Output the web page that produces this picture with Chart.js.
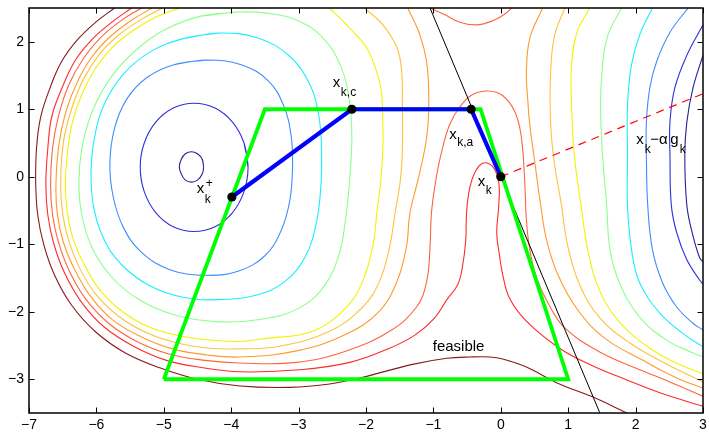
<!DOCTYPE html>
<html><head><meta charset="utf-8">
<script src="https://cdn.jsdelivr.net/npm/chart.js@4.4.0/dist/chart.umd.min.js"></script>
<style>html,body{margin:0;padding:0;background:#fff;}canvas{display:block;}</style>
</head><body>
<canvas id="c" width="709" height="434"></canvas>
<script>
// ---- tick labels ----
const xTicks = [-7,-6,-5,-4,-3,-2,-1,0,1,2,3];
const yTicks = [-3,-2,-1,0,1,2];

// ---- contour lines, left basin (closed ones repeat their first two points) ----
const navyLX = [-4.41,-4.43,-4.50,-4.59,-4.68,-4.74,-4.77,-4.74,-4.68,-4.59,-4.50,-4.43,-4.41,-4.43];
const navyLY = [0.15,0.26,0.34,0.37,0.34,0.26,0.15,0.04,-0.05,-0.08,-0.05,0.04,0.15,0.26];
const blueLX = [-3.75,-3.81,-3.98,-4.24,-4.55,-4.86,-5.12,-5.29,-5.35,-5.29,-5.12,-4.86,-4.55,-4.24,-3.98,-3.81,-3.75,-3.81];
const blueLY = [0.14,0.50,0.81,1.02,1.09,1.02,0.81,0.50,0.14,-0.22,-0.53,-0.74,-0.81,-0.74,-0.53,-0.22,0.14,0.50];
const dodgerLX = [-4.37,-4.85,-5.25,-5.55,-5.73,-5.80,-5.75,-5.60,-5.33,-4.90,-4.37,-3.90,-3.50,-3.26,-3.13,-3.09,-3.11,-3.22,-3.45,-3.85,-4.37,-4.85];
const dodgerLY = [1.73,1.66,1.47,1.15,0.72,0.20,-0.30,-0.75,-1.12,-1.38,-1.46,-1.40,-1.17,-0.80,-0.35,0.15,0.60,1.05,1.42,1.66,1.73,1.66];
const cyanLX = [-4.17,-4.70,-5.20,-5.60,-5.88,-6.03,-6.08,-6.04,-5.90,-5.63,-5.20,-4.70,-4.17,-3.65,-3.20,-2.90,-2.74,-2.67,-2.66,-2.70,-2.84,-3.15,-3.62,-4.17,-4.70];
const cyanLY = [2.13,2.05,1.85,1.52,1.08,0.57,0.05,-0.45,-0.90,-1.30,-1.62,-1.79,-1.82,-1.76,-1.55,-1.18,-0.70,-0.15,0.40,0.90,1.38,1.80,2.06,2.13,2.05];
const greenLX = [-3.87,-4.45,-4.98,-5.42,-5.80,-6.06,-6.21,-6.26,-6.21,-6.05,-5.76,-5.35,-4.80,-4.17,-3.55,-3.00,-2.62,-2.40,-2.30,-2.24,-2.21,-2.25,-2.38,-2.65,-3.05,-3.45,-3.87,-4.45];
const greenLY = [2.44,2.38,2.18,1.87,1.45,0.97,0.45,-0.08,-0.60,-1.08,-1.50,-1.83,-2.06,-2.15,-2.11,-1.95,-1.62,-1.15,-0.60,0.00,0.60,1.15,1.65,2.07,2.33,2.42,2.44,2.38];
const yellowLX = [-4.76,-5.11,-5.45,-5.76,-6.01,-6.22,-6.37,-6.44,-6.46,-6.43,-6.34,-6.17,-5.94,-5.61,-5.21,-4.75,-4.29,-3.87,-3.53,-2.79,-2.29,-2.05,-1.90,-1.84,-1.78,-1.75,-1.75,-1.77,-1.84,-1.99,-2.24,-2.54];
const yellowLY = [2.5,2.37,2.17,1.92,1.61,1.21,0.75,0.25,-0.12,-0.54,-0.94,-1.32,-1.69,-2.00,-2.23,-2.36,-2.42,-2.44,-2.40,-2.29,-1.93,-1.55,-1.04,-0.55,-0.05,0.40,0.77,1.25,1.55,1.91,2.20,2.5];
const lorangeLX = [-5.02,-5.35,-5.67,-5.95,-6.19,-6.37,-6.49,-6.53,-6.50,-6.41,-6.25,-6.01,-5.68,-5.28,-4.81,-4.32,-3.87,-3.28,-2.54,-2.05,-1.80,-1.65,-1.57,-1.49,-1.46,-1.46,-1.47,-1.54,-1.75,-2.02];
const lorangeLY = [2.5,2.32,2.10,1.82,1.45,1.00,0.51,-0.12,-0.55,-0.95,-1.35,-1.74,-2.06,-2.30,-2.46,-2.54,-2.55,-2.51,-2.29,-1.93,-1.55,-1.04,-0.55,-0.05,0.40,1.06,1.55,1.91,2.25,2.5];
const orangeLX = [-5.18,-5.49,-5.80,-6.07,-6.29,-6.46,-6.56,-6.60,-6.58,-6.49,-6.32,-6.08,-5.76,-5.34,-4.87,-4.36,-3.87,-3.03,-2.29,-1.80,-1.54,-1.40,-1.35,-1.23,-1.13,-1.08,-1.07,-1.10,-1.20,-1.38];
const orangeLY = [2.5,2.31,2.07,1.77,1.39,0.94,0.45,-0.12,-0.55,-0.97,-1.38,-1.78,-2.12,-2.37,-2.55,-2.64,-2.67,-2.58,-2.33,-1.99,-1.55,-1.04,-0.55,-0.05,0.40,0.77,1.25,1.70,2.10,2.5];
const orangeredX = [-5.33,-5.64,-5.95,-6.20,-6.41,-6.56,-6.65,-6.68,-6.65,-6.56,-6.40,-6.16,-5.82,-5.40,-4.91,-4.39,-3.87,-3.03,-2.29,-1.65,-1.25,-1.10,-1.05,-1.03,-0.97,-0.89,-0.76,-0.61,-0.43,-0.19,0.03,0.21,0.30,0.35,0.38,0.43,0.53,0.70,0.95,1.44,1.99,2.51,3.0];
const orangeredY = [2.5,2.31,2.05,1.74,1.36,0.91,0.43,-0.12,-0.57,-0.98,-1.40,-1.81,-2.17,-2.44,-2.63,-2.72,-2.76,-2.75,-2.58,-2.29,-1.93,-1.55,-1.04,-0.55,-0.09,0.32,0.77,1.03,1.21,1.27,1.20,0.96,0.62,0.03,-0.64,-1.08,-1.49,-1.87,-2.24,-2.58,-2.83,-3.04,-3.25];
const redX = [-5.48,-5.77,-6.06,-6.31,-6.50,-6.66,-6.72,-6.75,-6.72,-6.63,-6.47,-6.22,-5.88,-5.45,-4.96,-4.42,-3.87,-2.98,-2.24,-1.65,-1.28,-0.98,-0.80,-0.64,-0.57,-0.52,-0.51,-0.48,-0.40,-0.27,-0.12,-0.03,-0.03,-0.06,-0.02,0.03,0.13,0.38,0.87,1.36,1.87,2.36,3.0];
const redY = [2.5,2.29,2.04,1.73,1.34,0.90,0.43,-0.12,-0.57,-1.00,-1.43,-1.86,-2.23,-2.51,-2.72,-2.83,-2.89,-2.86,-2.75,-2.54,-2.35,-2.09,-1.82,-1.60,-1.34,-0.94,-0.57,-0.27,0.03,0.20,0.15,-0.09,-0.42,-0.83,-1.16,-1.46,-1.80,-2.14,-2.54,-2.80,-3.01,-3.20,-3.40];
const brownX = [-5.73,-6.01,-6.28,-6.52,-6.69,-6.83,-6.89,-6.90,-6.87,-6.78,-6.62,-6.37,-6.01,-5.57,-5.06,-4.50,-3.87,-3.13,-2.54,-2.05,-1.31,-0.80,-0.46,-0.16,0.03,0.38,0.87,1.36,1.87];
const brownY = [2.5,2.29,2.03,1.70,1.31,0.87,0.40,-0.12,-0.57,-1.01,-1.46,-1.90,-2.30,-2.61,-2.83,-3.00,-3.10,-3.12,-3.07,-2.97,-2.78,-2.69,-2.67,-2.67,-2.70,-2.82,-3.07,-3.26,-3.50];
const saddleX = [-1.05,-0.83,-0.61,-0.36,-0.12,0.06,0.16];
const saddleY = [2.5,2.40,2.29,2.25,2.31,2.41,2.5];

// ---- contour lines, right basin ----
const yellowRX = [1.32,1.13,1.05,1.05,1.09,1.19,1.29,1.45,1.76,2.21,2.65,3.0];
const yellowRY = [2.5,2.14,1.66,1.06,0.32,-0.42,-1.08,-1.65,-2.15,-2.54,-2.78,-2.92];
const lorangeRX = [0.95,0.80,0.74,0.74,0.80,0.90,0.99,1.17,1.47,1.91,2.43,3.0];
const lorangeRY = [2.5,2.10,1.58,0.77,0.17,-0.42,-1.01,-1.60,-2.09,-2.46,-2.76,-3.04];
const orangeRX = [0.62,0.43,0.38,0.40,0.43,0.50,0.58,0.68,0.85,1.14,1.54,2.11,2.61,3.0];
const orangeRY = [2.5,2.05,1.55,1.14,0.77,0.25,-0.34,-0.94,-1.46,-1.97,-2.39,-2.72,-2.98,-3.13];
const greenRX = [1.79,1.59,1.51,1.48,1.51,1.57,1.62,1.76,2.06,2.46,2.85,3.0];
const greenRY = [2.5,2.10,1.66,1.06,0.32,-0.42,-1.08,-1.57,-2.08,-2.42,-2.61,-2.67];
const cyanRX = [2.25,2.06,1.94,1.88,1.88,1.88,1.94,2.06,2.36,2.70,3.0];
const cyanRY = [2.5,2.10,1.66,1.06,0.32,-0.42,-1.08,-1.57,-2.02,-2.32,-2.52];
const dodgerRX = [2.78,2.51,2.31,2.21,2.16,2.16,2.18,2.25,2.40,2.61,2.85,3.0];
const dodgerRY = [2.5,2.14,1.70,1.31,0.81,0.32,-0.42,-1.08,-1.57,-1.93,-2.17,-2.27];
const blueRX = [3.0,2.76,2.58,2.51,2.51,2.53,2.61,2.76,2.95,3.0];
const blueRY = [2.25,1.80,1.31,0.81,0.32,-0.42,-0.83,-1.23,-1.53,-1.59];
const navyRX = [3.0,2.85,2.76,2.73,2.76,2.84,2.95,3.0];
const navyRY = [1.80,1.31,0.81,0.32,-0.42,-0.83,-1.20,-1.26];

// ---- feasible set, path, tangent line, gradient direction ----
const feasX = [-5,-3.5,-0.3,1,-5];
const feasY = [-3,1,1,-3,-3];
const pathX = [-3.99,-2.21,-0.44,0];   // x_k^+, x_k,c, x_k,a, x_k
const pathY = [-0.30,1.00,1.00,0];
const lineX = [-1.05,1.47];
const lineY = [2.5,-3.5];
const dashX = [0,3];
const dashY = [0,1.23];

const C = {navy:'#23239a', blue:'#3030dc', dodger:'#3d8eff', cyan:'#19eeff', green:'#8cff8c',
  yellow:'#f2f200', lorange:'#ffc23a', orange:'#ff992a', orangered:'#ff6440', red:'#ff2a2a', brown:'#8a1818'};

const zip = (xs, ys) => xs.map((x, i) => ({x, y: ys[i]}));
const contour = (xs, ys, color) => ({data: zip(xs, ys), showLine: true, borderColor: color, borderWidth: 1.1,
  pointRadius: 0, tension: 0.4, fill: false, order: 10});

const datasets = [
  {data: zip(pathX, pathY), showLine: false, pointRadius: 4.6, pointBackgroundColor: '#000', pointBorderWidth: 0, order: 0},
  {data: zip(pathX, pathY), showLine: true, borderColor: '#0000ff', borderWidth: 4.2, pointRadius: 0, tension: 0, order: 1},
  {data: zip(feasX, feasY), showLine: true, borderColor: '#00ff00', borderWidth: 3.8, pointRadius: 0, tension: 0, borderJoinStyle: 'miter', order: 2},
  {data: zip(lineX, lineY), showLine: true, borderColor: '#000', borderWidth: 1, pointRadius: 0, tension: 0, order: 3},
  {data: zip(dashX, dashY), showLine: true, borderColor: '#ff0000', borderWidth: 1.2, borderDash: [8, 6], pointRadius: 0, tension: 0, order: 3},
  contour(navyLX, navyLY, C.navy), contour(blueLX, blueLY, C.blue), contour(dodgerLX, dodgerLY, C.dodger),
  contour(cyanLX, cyanLY, C.cyan), contour(greenLX, greenLY, C.green), contour(yellowLX, yellowLY, C.yellow),
  contour(lorangeLX, lorangeLY, C.lorange), contour(orangeLX, orangeLY, C.orange),
  contour(orangeredX, orangeredY, C.orangered), contour(redX, redY, C.red), contour(brownX, brownY, C.brown),
  contour(saddleX, saddleY, C.orangered),
  contour(yellowRX, yellowRY, C.yellow), contour(lorangeRX, lorangeRY, C.lorange), contour(orangeRX, orangeRY, C.orange),
  contour(greenRX, greenRY, C.green), contour(cyanRX, cyanRY, C.cyan), contour(dodgerRX, dodgerRY, C.dodger),
  contour(blueRX, blueRY, C.blue), contour(navyRX, navyRY, C.navy)
];

const FONT = '"Liberation Sans", Arial, sans-serif';
const fmt = v => (v < 0 ? '\u2212' + Math.abs(v) : String(v));

const labelPlugin = {
  id: 'labels',
  afterDatasetsDraw(chart) {
    const {ctx, scales: {x, y}} = chart;
    const P = (vx, vy) => [x.getPixelForValue(vx), y.getPixelForValue(vy)];
    const big = '15px ' + FONT, small = '12px ' + FONT;
    ctx.save();
    ctx.fillStyle = '#000'; ctx.textAlign = 'left'; ctx.textBaseline = 'alphabetic';
    const put = (t, f, px, py) => { ctx.font = f; ctx.fillText(t, px, py); };
    let [a, b] = P(pathX[0], pathY[0]);
    put('x', big, a - 35, b - 4); put('+', small, a - 26, b - 10); put('k', small, a - 27, b + 6);
    [a, b] = P(pathX[1], pathY[1]);
    put('x', big, a - 19, b - 22); put('k,c', small, a - 11, b - 13);
    [a, b] = P(pathX[2], pathY[2]);
    put('x', big, a - 22, b + 30); put('k,a', small, a - 14, b + 37);
    [a, b] = P(pathX[3], pathY[3]);
    put('x', big, a - 23, b + 9); put('k', small, a - 15, b + 17);
    [a, b] = P(2.01, 0.48);
    put('x', big, a, b); put('k', small, a + 8.5, b + 9); put('\u2212\u03b1', big, a + 14, b);
    put('g', big, a + 34, b); put('k', small, a + 43.5, b + 9);
    [a, b] = P(-1.01, -2.58);
    put('feasible', big, a, b);
    ctx.restore();
  }
};

const framePlugin = {
  id: 'frame',
  afterDraw(chart) {
    const {ctx, chartArea: ca, scales: {x, y}} = chart;
    ctx.save();
    ctx.strokeStyle = '#000'; ctx.lineWidth = 1.5;
    ctx.strokeRect(ca.left, ca.top, ca.right - ca.left, ca.bottom - ca.top);
    ctx.lineWidth = 1;
    const L = 5.5;
    ctx.beginPath();
    xTicks.forEach(v => {
      const px = Math.round(x.getPixelForValue(v)) + 0.5;
      ctx.moveTo(px, ca.bottom); ctx.lineTo(px, ca.bottom - L);
      ctx.moveTo(px, ca.top); ctx.lineTo(px, ca.top + L);
    });
    yTicks.forEach(v => {
      const py = Math.round(y.getPixelForValue(v)) + 0.5;
      ctx.moveTo(ca.left, py); ctx.lineTo(ca.left + L, py);
      ctx.moveTo(ca.right, py); ctx.lineTo(ca.right - L, py);
    });
    ctx.stroke();
    ctx.restore();
  }
};

new Chart(document.getElementById('c'), {
  type: 'scatter',
  data: {datasets},
  options: {
    responsive: false, animation: false, devicePixelRatio: 1, events: [],
    layout: {padding: {left: 0, right: 6, top: 8, bottom: 0}},
    plugins: {legend: {display: false}, tooltip: {enabled: false}},
    scales: {
      x: {type: 'linear', min: -7, max: 3,
        afterBuildTicks: s => { s.ticks = xTicks.map(v => ({value: v})); },
        afterFit: s => { s.height = 21; s.paddingLeft = 0; s.paddingRight = 0; },
        ticks: {callback: v => fmt(v), font: {family: FONT, size: 14}, color: '#000', padding: 4, maxRotation: 0, autoSkip: false},
        grid: {display: false, drawTicks: false}, border: {display: false}},
      y: {type: 'linear', min: -3.5, max: 2.5,
        afterBuildTicks: s => { s.ticks = yTicks.map(v => ({value: v})); },
        afterFit: s => { s.width = 29; s.paddingTop = 0; s.paddingBottom = 0; },
        ticks: {callback: v => fmt(v), font: {family: FONT, size: 14}, color: '#000', padding: 5, autoSkip: false},
        grid: {display: false, drawTicks: false}, border: {display: false}}
    }
  },
  plugins: [labelPlugin, framePlugin]
});
</script>
</body></html>
